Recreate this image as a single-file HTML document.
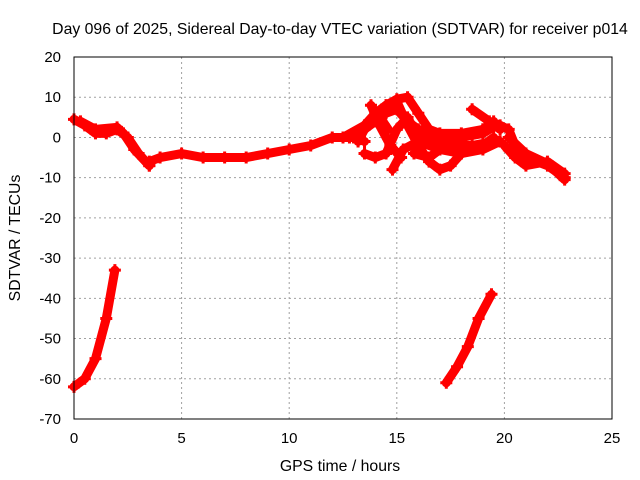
<!DOCTYPE html>
<html><head><meta charset="utf-8"><style>
body{margin:0;background:#fff;}
svg{display:block;font-family:"Liberation Sans",sans-serif;}
</style></head><body>
<svg id="chart" width="640" height="480" viewBox="0 0 640 480">
<rect width="640" height="480" fill="#fff"/>
<g id="grid"></g>
<g id="series"></g>
<rect x="74" y="57" width="538" height="362" fill="none" stroke="#000" stroke-width="1"/>
<g id="axes"></g>
<text x="340" y="34" text-anchor="middle" font-size="15.8">Day 096 of 2025, Sidereal Day-to-day VTEC variation (SDTVAR) for receiver p014</text>
<text x="340" y="471" text-anchor="middle" font-size="15.8">GPS time / hours</text>
<text x="20" y="238" text-anchor="middle" font-size="15.8" transform="rotate(-90 20 238)">SDTVAR / TECUs</text>
</svg>
<script>
const xTicks=[0,5,10,15,20,25];
const yTicks=[20,10,0,-10,-20,-30,-40,-50,-60,-70];
const t1=[0,0.5,1,1.5,2,2.5,3,3.5];            const v1=[4.5,3,1,1,2,0,-4,-7];
const t2=[0.3,1,2,2.3,2.8,3.5];                const v2=[4,2,2.5,1,-3,-7];
const t3=[3.5,4,5,6,7,8,9,10,11,12,13,13.5];   const v3=[-6,-5,-4,-5,-5,-5,-4,-3,-2,0,0,-1];
const t4=[12.5,13.5,14,14.5,15,15.5,16,16.5,17,18,19];     const v4=[0,3,6,8,9.5,10,6,2,1,1,2];
const t5=[13,14,14.5,15,15.5,16,16.5,17,17.5,18,19,19.5];  const v5=[0,5,8,9,3,-2,-6,-8,-7,-4,-2,0];
const t6=[13.5,14,14.5,15,15.5,16,17,18,19,19.5];          const v6=[-4,-5,-4,2,5,0,-1,0,2,4];
const t7=[14.8,15.3,16,17,18,19,19.8];         const v7=[-8,-3,-1,-3,-4,-3,-1];
const t8=[13.8,14.2,14.7,15.2];                const v8=[8,3,-2,-5];
const t9=[18.5,19.3,19.8];                     const v9=[7,4,2];
const t10=[19.8,20.2,20.5,21,22,22.8];         const v10=[3,2,-2,-5,-7,-10];
const t11=[20,20.5,21,22,22.8];                const v11=[-2,-5,-7,-6,-9];
const t12=[20.2,21,22,22.8];                   const v12=[0,-4,-6.5,-10.5];
const t13=[0,0.5,1,1.5,1.9];                   const v13=[-62,-60,-55,-45,-33];
const t14=[17.3,17.8,18.3,18.8,19.4];          const v14=[-61,-57,-52,-45,-39];
const t15=[12.8,13.5,14,14.5,15,15.5,16,16.5,17,18,19,19.6]; const v15=[0,2,4,6,7,4,2,1,0,0,1,3];
const t16=[13.2,13.6,14.1,14.6];               const v16=[-1,3,6,2];
const t17=[15.8,16.5,17,17.8,18.5,19.5];       const v17=[-4,-5,-3,-2,-2,-1];
const allT=[t1,t2,t3,t4,t5,t6,t7,t8,t9,t10,t11,t12,t13,t14,t15,t16,t17];
const allV=[v1,v2,v3,v4,v5,v6,v7,v8,v9,v10,v11,v12,v13,v14,v15,v16,v17];
const X=t=>74+t*(538/25);
const Y=v=>57+(20-v)*(362/90);
const NS="http://www.w3.org/2000/svg";
const grid=document.getElementById('grid'),axes=document.getElementById('axes'),ser=document.getElementById('series');
function mk(tag,attrs,parent){const e=document.createElementNS(NS,tag);for(const k in attrs)e.setAttribute(k,attrs[k]);parent.appendChild(e);return e;}
xTicks.forEach(t=>{
  if(t>0&&t<25){const g=mk('line',{x1:X(t),x2:X(t),y1:57,y2:419,stroke:'#a0a0a0','stroke-dasharray':'2,3'},grid);
  
  }
  const l=mk('text',{x:X(t),y:443,'text-anchor':'middle','font-size':'15'},axes);l.textContent=t;
  
  
});
yTicks.forEach(v=>{
  if(v<20&&v>-70){const g=mk('line',{x1:74,x2:612,y1:Y(v),y2:Y(v),stroke:'#a0a0a0','stroke-dasharray':'2,3'},grid);
  
  }
  const l=mk('text',{x:61,y:Y(v)+5,'text-anchor':'end','font-size':'15'},axes);l.textContent=v;
  
  
});
allT.forEach((ts,i)=>{
  const vs=allV[i];
  const pts=ts.map((t,j)=>X(t)+','+Y(vs[j])).join(' ');
  const p=mk('polyline',{points:pts,fill:'none',stroke:'#ff0000','stroke-width':'9','stroke-linejoin':'round','stroke-linecap':'round'},ser);
  
  
  ts.forEach((t,j)=>{
    const x=X(t),y=Y(vs[j]);
    const m=mk('path',{d:`M${x-6},${y}H${x+6}M${x},${y-6}V${y+6}`,stroke:'#ff0000','stroke-width':'3'},ser);
    
    
  });
});
</script>
</body></html>
